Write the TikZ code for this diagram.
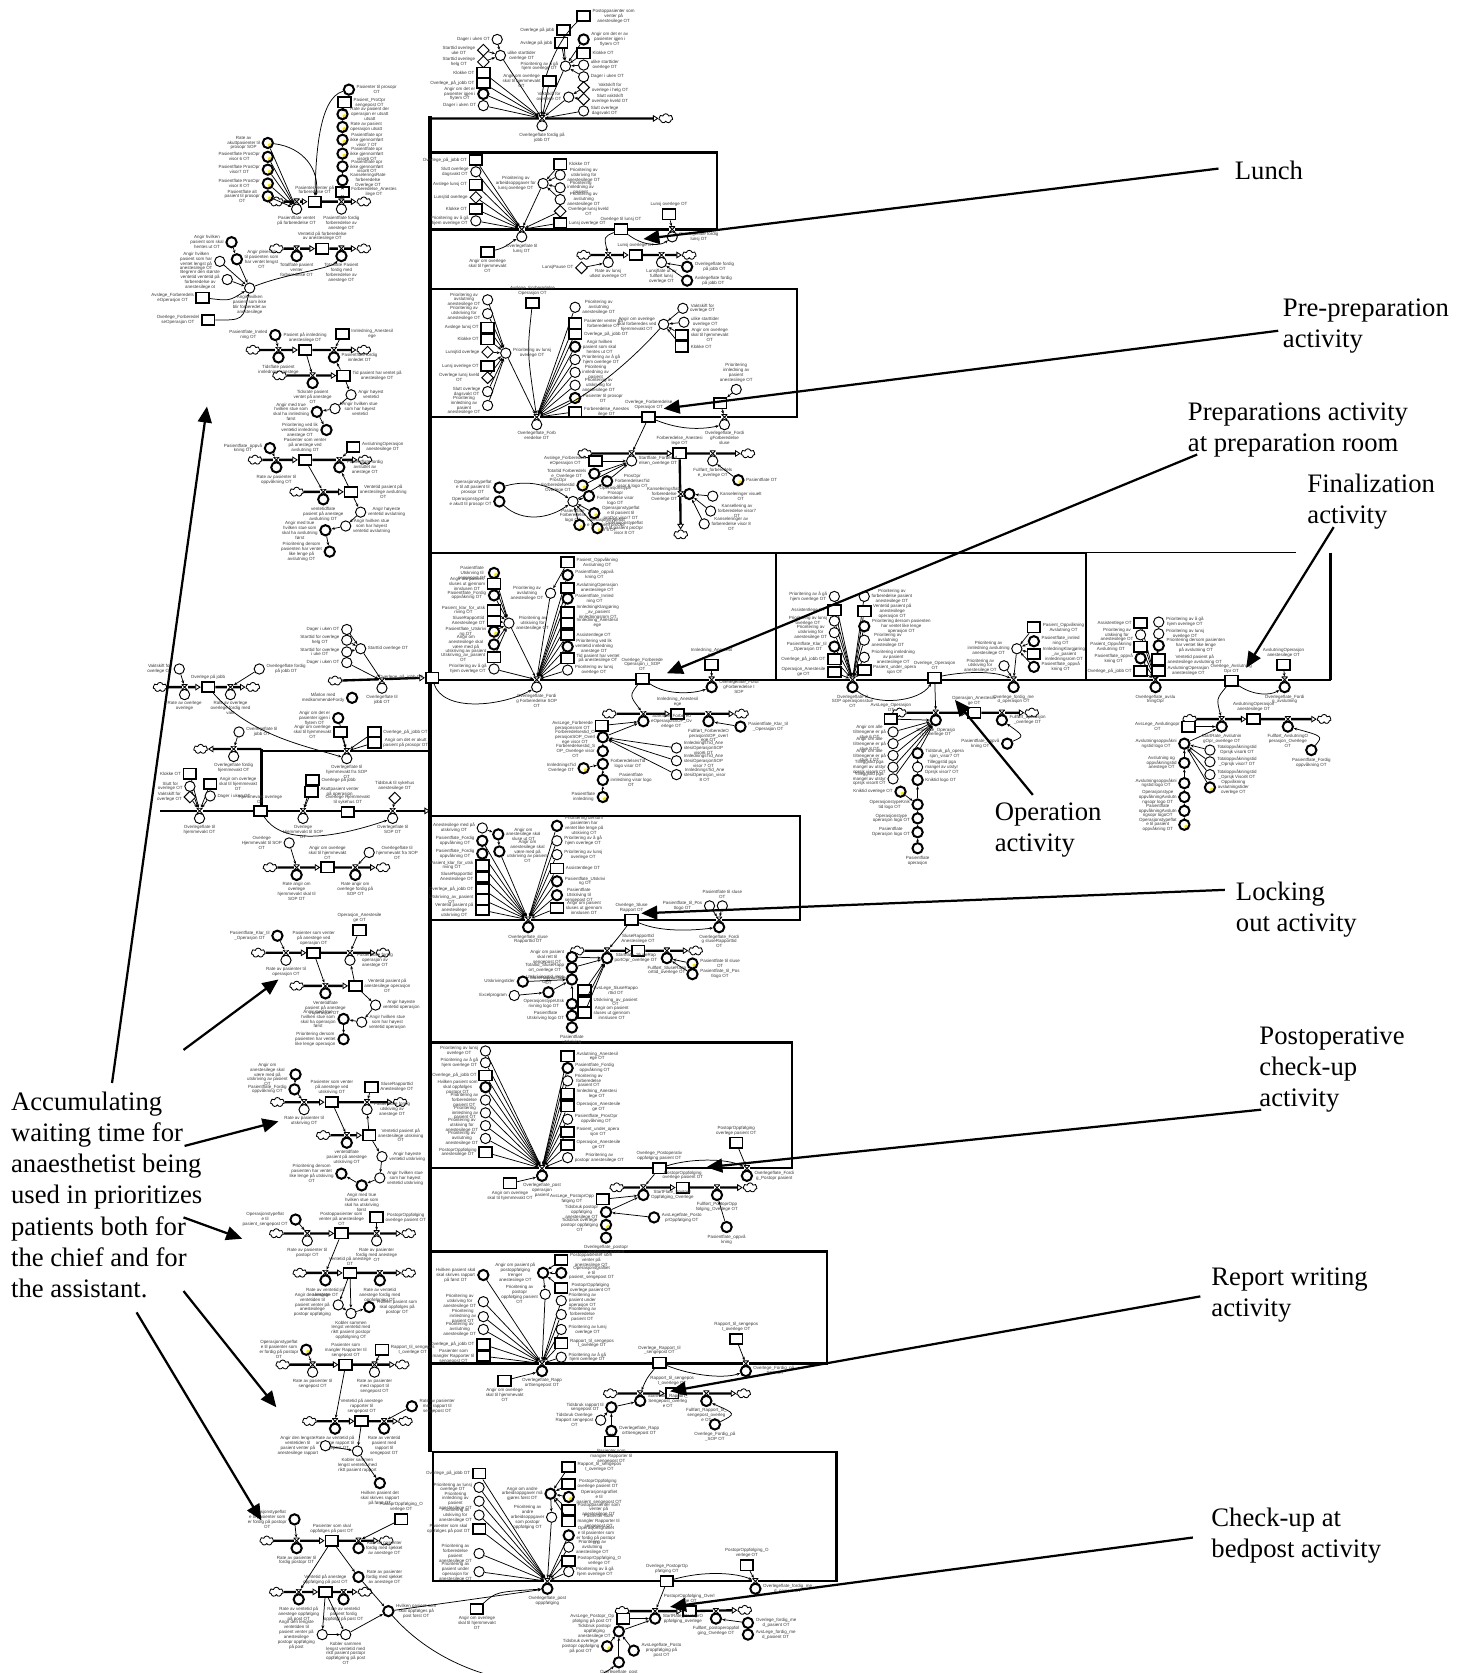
\documentclass[tikz,border=0pt]{standalone}
\usepackage{fontspec}
\usetikzlibrary{arrows.meta,shapes.geometric,shapes.symbols,positioning}
\newfontfamily\calloutfam{Liberation Serif}
\newfontfamily\modelfam{Liberation Sans}
\pgfdeclarelayer{bg}
\pgfsetlayers{bg,main}

\tikzset{
  lbl/.style={font=\modelfam\fontsize{2.1}{2.3}\selectfont,text=black!78,align=center,inner sep=0.2pt},
  big/.style={font=\calloutfam\fontsize{12.5}{14.6}\selectfont,align=left,inner sep=0pt},
  aux/.style={circle,draw,line width=0.45pt,minimum size=4.8pt,inner sep=0pt,fill=white},
  auxb/.style={aux,line width=0.95pt},
  auy/.style={auxb,path picture={\fill[yellow!90!orange] ([shift={(-45:1.5pt)}]path picture bounding box.center) circle (1pt);}},
  stk/.style={rectangle,draw,line width=0.8pt,minimum width=6pt,minimum height=4.8pt,inner sep=0pt,fill=white},
  cst/.style={diamond,draw,line width=0.45pt,minimum size=5.6pt,inner sep=0pt,fill=white},
  cld/.style={cloud,cloud puffs=7,aspect=1.5,draw,line width=0.4pt,minimum width=6.5pt,minimum height=4.4pt,inner sep=0pt,fill=white},
  vlv/.style={rectangle,minimum width=2.8pt,minimum height=2.6pt,inner sep=0pt,fill=white,
    path picture={\draw[line width=0.4pt] (path picture bounding box.north west) -- (path picture bounding box.north east) -- (path picture bounding box.south west) -- (path picture bounding box.south east) -- cycle;}},
  lnk/.style={line width=0.35pt,-{Stealth[length=1.6pt,width=1.3pt]}},
  pipe/.style={line width=1.1pt,-{Triangle[open,length=2.6pt,width=3.2pt,line width=0.4pt]}},
  frame/.style={line width=1.05pt},
  spine/.style={line width=2pt},
  callout/.style={line width=1.05pt,-{Triangle[length=7.5pt,width=6.5pt]}},
}

% element with a small caption beside it
\newcommand\nd[5]{\node[#1] (#2) at (#3) {};\node[lbl,#4=0.4pt of #2] (#2t) {#5};}
% flow valve with its rate circle
\newcommand\rate[6]{\node[vlv] (#1v) at (#2,#3) {};\node[#4] (#1) at (#2,#3+7) {};\node[lbl,#5=0.3pt of #1] (#1t) {#6};}
% a column of inputs all linked to one target
\newcommand\fan[4]{\foreach \fx/\fy/\fs/\ft [count=\fk] in {#4}{\node[\fs] (#1\fk) at (\fx,\fy) {};\node[lbl,#3=0.4pt of #1\fk] (#1t\fk) {\ft};\draw[lnk] (#1\fk) -- (#2);}}
\newcommand\flowpipe[2]{\begin{pgfonlayer}{bg}\draw[pipe] (#1) -- (#2);\end{pgfonlayer}}
\newcommand\lk[2]{\draw[lnk] (#1) -- (#2);}

\begin{document}
\begin{tikzpicture}[x=0.5pt,y=-0.5pt]
\useasboundingbox (0,0) rectangle (1371,1568);

% ---------- activity frames and the main spine ----------
\begin{pgfonlayer}{bg}
 \draw[spine] (403,109) -- (403,1361);
 \draw[frame] (403,143) -- (672,143) -- (672,215) -- (403,215);
 \draw[frame] (403,271) -- (747,271) -- (747,391) -- (403,391);
 \draw[frame] (403,518) -- (1018,518);
 \draw[line width=0.7pt] (1018,518) -- (1215,518);
 \draw[frame] (727,518) -- (727,637) (1018,518) -- (1018,637) (1247,518) -- (1247,637);
 \draw[frame] (403,637) -- (1247,637);
 \draw[frame] (403,765) -- (750,765) -- (750,862) -- (403,862);
 \draw[frame] (403,977) -- (742,977) -- (742,1095) -- (403,1095);
 \draw[frame] (403,1173) -- (775,1173) -- (775,1278) -- (403,1278);
 \draw[frame] (406,1361) rectangle (784,1482);
 \draw[frame] (245,702) -- (245,760);
 \draw[frame] (245,704) -- (403,704);
\end{pgfonlayer}

% ---------- start of day ----------
\node[cld] (Tcl) at (624,111) {};
\coordinate (Tsp) at (403,111);
\flowpipe{Tsp}{Tcl}
\rate{Th}{508}{111}{aux}{below}{Overlegeflate fordig på\\jobb OT}
\nd{aux}{Tdu}{466,37}{left}{Dager i uken OT}
\nd{aux}{Tul}{469,52}{right}{ulike starttider\\overlege OT}
\nd{cst}{Tdi}{453,47}{left}{Starttid overlege\\uke OT}
\nd{cst}{Tdh}{453,58}{left}{Starttid overlege\\helg OT}
\lk{Tdu}{Tul}\lk{Tdi}{Tul}\lk{Tdh}{Tul}\lk{Tul}{Thv}
\fan{Ta}{Thv}{left}{453/68/stk/Klokke OT, 453/78/stk/{Overlege\_på\_jobb OT}, 453/88/auxb/{Angir om det er\\pasienter igjen i\\flytem OT}, 453/99/aux/Dager i uken OT}
\nd{aux}{Tp}{530,62}{left}{Prioritering av å gå\\hjem overlege OT}
\lk{Tp}{Thv}
\fan{Tb}{Tp}{right}{547/37/auxb/{Angir om det er av\\pasienter igjen i\\flytem OT}, 547/50/stk/Klokke OT, 547/61/aux/{ulike starttider\\overlege OT}, 547/72/aux/Dager i uken OT}
\fan{Tc}{Tp}{left}{528/28/stk/Overlege på jobb, 526/40/stk/Avslege på jobb}
\nd{stk}{Tpo}{547,15}{right}{Postoppasienter som\\venter på\\anestesilege OT}
\draw[lnk] (Tpo) .. controls (520,40) and (505,80) .. (Thv);
\nd{aux}{Tvs}{533,91}{left}{Vaktskift for\\overlege OT}
\lk{Tvs}{Thv}
\fan{Td}{Tvs}{right}{547/82/cst/{Vaktskift for\\overlege i helg OT}, 547/93/cst/{Slutt vaktskift\\overlege kveld OT}}
\nd{aux}{Tso}{547,104}{right}{Slutt overlege\\dagsvakt OT}
\lk{Tso}{Thv}
\nd{stk}{Thj}{515,76}{left}{Angir om overlege\\skal til hjemmevakt\\OT}
\lk{Thj}{Thv}

% ---------- lunch ----------
\rate{Ah}{489}{215}{aux}{below}{Overlegeflate til\\lunsj OT}
\fan{Aa}{Ahv}{left}{446/150/stk/{Overlege\_på\_jobb OT}, 446/161/aux/{Slutt overlege\\dagsvakt OT}, 446/173/stk/Avslege lunsj OT, 446/185/cst/Lunsjtid overlege, 446/196/stk/Klokke OT, 446/207/aux/{Prioritering av å gå\\hjem overlege OT}}
\nd{aux}{Ap}{509,172}{left}{Prioritering av\\arbeidsoppgaver for\\lunsj overlege OT}
\lk{Ap}{Ahv}
\fan{Ab}{Ap}{right}{525/154/stk/Klokke OT, 525/164/aux/{Prioritering av\\utskriving for\\anestesilege OT}, 525/176/aux/{Prioritering\\innledning av\\pasient}, 525/187/aux/{Prioritering av\\avslutning\\anestesilege OT}}
\fan{Ac}{Ahv}{right}{525/198/cst/{Overlege lunsj kveld\\OT}, 525/209/stk/Lunsj overlege OT}
\nd{stk}{Atl}{582,215}{above}{Overlege til lunsj OT}
\nd{stk}{Alo}{627,201}{above}{Lunsj overlege OT}
\rate{Af}{630}{215}{aux}{right}{Overlegeflate fordig\\lunsj OT}
\lk{Alo}{Afv}
\draw[lnk] (Atl) .. controls (605,232) and (620,230) .. (Af);
\node[cld] (Acl1) at (547,239) {};
\node[cld] (Acl2) at (646,239) {};
\nd{stk}{Als}{596,239}{above}{Lunsj overlege OT}
\flowpipe{Acl1}{Als}\flowpipe{Als}{Acl2}
\rate{Ar}{570}{239}{aux}{below}{Rate av lunsj\\utløst overlege OT}
\rate{As}{620}{239}{aux}{below}{Lunsjflate ut av\\fullført lunsj\\overlege OT}
\draw[lnk] (Atl) .. controls (566,222) .. (Arv);
\nd{cst}{Alp}{545,251}{left}{LunsjPause OT}
\lk{Alp}{Ar}
\nd{auxb}{Aq}{644,250}{right}{Overlegeflate fordig\\på jobb OT}
\nd{auxb}{Aw}{644,263}{right}{Avslegeflate fordig\\på jobb OT}
\lk{Aq}{As}\lk{Aw}{As}
\nd{stk}{Ahj}{457,236}{below}{Angir om overlege\\skal til hjemmevakt\\OT}
\draw[lnk] (Ahj) .. controls (475,232) and (480,226) .. (Ah);

% ---------- pre-preparation ----------
\rate{Bh}{503}{391}{aux}{below}{Overlegeflate\_Forb\\eredelse OT}
\nd{aux}{Bp}{474,331}{right}{Prioritering av lunsj\\overlege OT}
\lk{Bp}{Bhv}
\fan{Ba}{Bp}{left}{457/281/aux/{Prioritering av\\avslutning\\anestesilege OT}, 457/294/aux/{Prioritering av\\utskriving for\\anestesilege OT}, 457/307/stk/Avslege lunsj OT, 457/318/stk/Klokke OT, 457/330/cst/Lunsjtid overlege, 457/343/stk/Lunsj overlege OT, 457/354/cst/{Overlege lunsj kveld\\OT}, 457/367/aux/{Slutt overlege\\dagsvakt OT}, 457/380/aux/{Prioritering\\innledning av\\pasient\\anestesilege OT}}
\nd{stk}{Bav}{499,284}{above}{Avslege\_Forberedelse\\Operasjon OT}
\draw[lnk] (Bav) .. controls (494,330) .. (Bhv);
\fan{Bb}{Bhv}{right}{539/288/aux/{Prioritering av\\avslutning\\anestesilege OT}, 539/303/stk/{Pasienter venter på\\forberedelse OT}, 539/313/stk/{Overlege\_på\_jobb OT}, 539/325/auxb/{Angir hvilken\\pasient som skal\\hentes ut OT}, 539/337/aux/{Prioritering av å gå\\hjem overlege OT}, 539/349/aux/{Prioritering\\innledning av\\pasient}, 539/361/aux/{Prioritering av\\utskriving for\\anestesilege OT}, 539/373/auy/{Pasienter til prosopr\\OT}, 539/386/stk/{Forberedelse\_Anestes\\ilege OT}}
\nd{aux}{Bq}{622,304}{left}{Angir om overlege\\skal forberedes ved\\hjemmevakt OT}
\fan{Bc}{Bq}{right}{640/289/aux/{Vaktskift for\\overlege OT}, 641/302/aux/{ulike starttider\\overlege OT}, 639/314/stk/{Angir om overlege\\skal til hjemmevakt\\OT}, 639/325/stk/Klokke OT}
\draw[lnk] (Bq) .. controls (590,340) and (545,378) .. (Bhv);
\nd{stk}{Bfo}{608,391}{above}{Overlege\_Forberedelse\\Operasjon OT}
\rate{Bf}{679}{391}{aux}{below}{Overlegeflate\_Fordi\\gForberedelse\\sluse}
\nd{aux}{Bpi}{690,365}{above}{Prioritering\\innledning av\\pasient\\anestesilege OT}
\node[stk] (Bsq) at (675,378) {};
\lk{Bpi}{Bsq}\lk{Bsq}{Bfv}
\draw[lnk] (Bfo) .. controls (640,404) and (660,402) .. (Bf);
\node[cld] (Bcl1) at (548,425) {};
\node[cld] (Bcl2) at (701,425) {};
\node[cld] (Bcl3) at (638,501) {};
\nd{stk}{Bfs}{637,425}{above}{Forberedelse\_Anestesi\\lege OT}
\flowpipe{Bcl1}{Bfs}\flowpipe{Bfs}{Bcl2}\flowpipe{Bfs}{Bcl3}
\rate{Br}{592}{425}{aux}{right}{Startflate\_Forbered\\elsen\_overlege OT}
\rate{Bs}{668}{425}{aux}{below}{Fullført\_forberedels\\e\_overlege OT}
\lk{Bfo}{Brv}
\nd{stk}{Bal}{558,432}{left}{Avslege\_Forberedels\\eOperasjon OT}
\lk{Bal}{Br}
\nd{auxb}{Bta}{557,444}{left}{Totaltid Forberedels\\e\_Overlege OT}
\nd{auy}{Btb}{546,455}{left}{ProsOpr\\Forberedelsestid\\Overlege OT}
\nd{auxb}{Btc}{569,451}{right}{ProsOpr\\ForberedelsesTid\\visor 6 logo OT}
\lk{Bta}{Br}\lk{Btb}{Br}\lk{Btc}{Br}
\nd{aux}{Bhub}{537,470}{below}{Pasientflate\\Forberedelse\\logo OT}
\lk{Bhub}{Btc}
\fan{Bd}{Bhub}{right}{552/465/auxb/{Operasjonstype\\Prosopr\\Forberedelse visor\\logo OT}, 557/481/auy/{Operasjonstypeflat\\e til pasient til\\proOpr visor7 OT}, 543/492/auy/{Operasjonstypeflat\\e til pasient proOpr\\visor 6 OT}, 560/495/auy/{Operasjonstypeflat\\e til pasient proOpr\\visor 8 OT}}
\nd{auxb}{Bea}{468,457}{left}{Operasjonstypeflat\\e til att pasient til\\prosopr OT}
\nd{auxb}{Beb}{468,470}{left}{Operasjonstypeflat\\e akutt til prosopr OT}
\draw[lnk] (Bea) .. controls (500,448) and (520,458) .. (Bhub);
\draw[lnk] (Beb) .. controls (490,490) and (515,486) .. (Bhub);
\node[vlv] (Bkv) at (638,463) {};
\nd{auxb}{Bk}{646,463}{left}{Kanseleringsflate\\forberedelse\\Overlege OT}
\fan{Bg}{Bk}{right}{668/465/aux/{Kanseleringer visuelt\\OT}, 666/479/aux/{Kansellering av\\forberedelse visor7\\OT}, 660/491/aux/{Kanseleringer av\\forberedelse visor 8\\OT}}
\nd{auy}{Bpf}{692,450}{right}{Pasientflate OT}
\lk{Bpf}{Bs}

% ---------- preparation room, operation, finalization ----------
\nd{stk}{Sp}{405,635}{left}{Overlege\_på\_jobb OT}
\rate{Ch}{503}{637}{aux}{below}{Overlegeflate\_Fordi\\g Forberedelse SOP\\OT}
\draw[lnk] (Sp) .. controls (415,668) and (470,662) .. (Ch);
\nd{aux}{Cp}{477,584}{right}{Prioritering av\\utskiving for\\anestesilege OT}
\lk{Cp}{Chv}
\fan{Ca}{Cp}{left}{463/537/auy/{Pasientflate\\Utskrving til\\sengepost OT}, 463/547/stk/{Angir om pasient\\sluses ut gjennom\\innslusen OT}, 463/558/auxb/{Pasientflate\_Fordig\\oppvåkning OT}, 463/572/stk/{Pasient\_klar\_for\_utsk\\riving OT}, 463/582/stk/{SluseRapporttid\\Anestesilege OT}, 463/592/auy/{Pasientflate\_Utskrivi\\ng OT}, 463/604/auxb/{Angir om\\anestesilege skal\\være med på\\utskriving av pasient}, 463/616/stk/{Utskriving\_av\_pasient\\OT}}
\nd{aux}{Cg}{463,627}{left}{Prioritering av å gå\\hjem overlege OT}
\lk{Cg}{Chv}
\nd{aux}{Cq}{516,556}{left}{Prioritering av\\avslutning\\anestesilege OT}
\lk{Cq}{Chv}
\nd{stk}{Cpo}{532,527}{right}{Pasient\_Oppvåkning\\Avslutning OT}
\lk{Cpo}{Cq}
\fan{Cb}{Chv}{right}{532/539/auxb/{Pasientflate\_oppvå\\kning OT}, 532/551/stk/{AvslutningOperasjon\\anestesilege OT}, 532/561/auxb/{Pasientflate\_Innled\\ning OT}, 532/574/stk/{InnledningKlargjøring\\\_av\_pasient\\innledningsrom OT}, 532/584/stk/{Innledning\_Anestesil\\ege}, 532/595/stk/Assistentlege OT, 532/606/auxb/{Prioritering ved lik\\ventetid innledning\\anestege OT}, 532/617/stk/{Tid pasient har ventet\\på anestesilege OT}, 532/628/aux/{Prioritering av lunsj\\overlege OT}}
\nd{stk}{Cfo}{602,636}{above}{Overlege\_Forberede\\Operasjon\_i\_SOP\\OT}
\nd{stk}{Cin}{667,623}{above}{Innledning\_Anestesil\\ege}
\rate{Cf}{667}{637}{auxb}{right}{Overlegeflate\_Fordi\\gForberedelse I\\SOP}
\lk{Cin}{Cfv}
\draw[lnk] (Cfo) .. controls (625,652) and (650,650) .. (Cf);
\node[cld] (Ccl1) at (571,669) {};
\node[cld] (Ccl2) at (695,669) {};
\nd{stk}{Cis}{635,669}{above}{Innledning\_Anestesil\\ege}
\flowpipe{Ccl1}{Cis}\flowpipe{Cis}{Ccl2}
\rate{Cr}{603}{669}{auxb}{right}{Startflate\_Forbered\\eOperasjonSOP\_Ov\\erlege OT}
\rate{Cs}{664}{669}{auxb}{below}{Fullført\_ForberedeO\\perasjonSOP\_overl\\ege OT}
\draw[lnk] (Cfo) .. controls (590,652) .. (Crv);
\nd{auxb}{Ckl}{694,681}{right}{Pasientflate\_Klar\_til\\\_Operasjon OT}
\lk{Ckl}{Cs}
\nd{stk}{Cal}{564,680}{left}{AvsLege\_Forberede\\perasjonsrom OT}
\lk{Cal}{Cr}
\nd{auxb}{Cda}{565,691}{left}{Forberedelsestid\_O\\perasjonSOP\_Overl\\ege visor OT}
\nd{auxb}{Cdb}{565,704}{left}{Forberedelsestid\_S\\OP\_Overlege visor\\OT}
\nd{auxb}{Cdc}{565,716}{right}{ForberedelsesTid\\logo visor OT}
\nd{auxb}{Cdd}{565,731}{right}{Pasientflate\\innledning visor logo\\OT}
\nd{auy}{Cde}{565,747}{left}{Pasientflate\\innledning}
\lk{Cda}{Cr}\lk{Cdb}{Cda}\lk{Cdc}{Cdb}\lk{Cdd}{Cdc}\lk{Cde}{Cdd}
\nd{auy}{Cit}{547,720}{left}{InnledningsTid\\Overlege OT}
\lk{Cit}{Cdc}
\fan{Ce}{Cda}{right}{634/701/aux/{InnledningsTid\_Ane\\stesiOperasjonSOP\\visor6 OT}, 634/713/aux/{InnledningsTid\_Ane\\stesiOperasjonSOP\\visor 7 OT}, 634/726/aux/{InnledningsTid\_Ane\\stesiOperasjon\_visor\\8 OT}}

\rate{Dh}{799}{637}{auxb}{below}{Overlegeflate til\\SOP operasjonsstue\\OT}
\fan{Da}{Dhv}{left}{782/559/aux/{Prioritering av å gå\\hjem overlege OT}, 782/572/stk/Assistentlege OT, 782/582/aux/{Prioritering av lunsj\\overlege OT}, 782/593/aux/{Prioritering av\\utskriving for\\anestesilege OT}, 782/606/auxb/{Pasientflate\_Klar\_til\\\_Operasjon OT}, 782/618/stk/{Overlege\_på\_jobb OT}, 782/630/stk/{Operasjon\_Anestesile\\ge OT}}
\fan{Db}{Dhv}{right}{810/559/aux/{Prioritering av\\forberedelse pasient\\anestesilege OT}, 810/573/stk/{Ventetid pasient på\\anestesilege\\operasjon OT}, 810/587/auxb/{Prioritering dersom pasienten\\har ventet like lenge\\operasjon OT}, 810/600/aux/{Prioritering av\\avslutning\\anestesilege OT}, 810/616/aux/{Prioritering innledning\\av pasient\\anestesilege OT}, 810/628/stk/{Pasient\_under\_opera\\sjon OT}}
\nd{stk}{Dop}{876,635}{above}{Overlege\_Operasjon\\OT}
\draw[lnk] (Dh) .. controls (820,662) and (862,658) .. (Dop);
\rate{Df}{950}{637}{auxb}{below}{Overlege\_fordig\_me\\d\_operasjon OT}
\draw[lnk] (Dop) .. controls (900,630) and (930,628) .. (Dfv);
\nd{aux}{Dq}{953,608}{left}{Prioritering av\\innledning avslutning\\anestesilege OT}
\nd{aux}{Du}{941,624}{left}{Prioritering av\\utskiving for\\anestesilege OT}
\lk{Dq}{Dfv}\lk{Du}{Dfv}
\fan{Dc}{Dq}{right}{969/588/stk/{Pasient\_Oppvåkning\\Avslutning OT}, 969/601/auxb/{Pasientflate\_innled\\ning OT}, 969/613/stk/{InnledningKlargjøring\\\_av\_pasient\\innledningsrom OT}, 969/625/auxb/{Pasientflate\_oppvå\\kning OT}}
\node[cld] (Dcl1) at (843,668) {};
\node[cld] (Dcl2) at (967,668) {};
\nd{stk}{Dos}{913,668}{above}{Operasjon\_Anestesile\\ge OT}
\flowpipe{Dcl1}{Dos}\flowpipe{Dos}{Dcl2}
\rate{Dr}{877}{668}{auxb}{below}{Startflate\_Operasjo\\n\_Overlege OT}
\rate{Ds}{939}{668}{auxb}{right}{Fullført\_operasjon\\\_overlege OT}
\lk{Dop}{Drv}
\nd{auxb}{Dpo}{944,697}{left}{Pasientflate\_oppvå\\kning OT}
\draw[lnk] (Dpo) .. controls (960,690) .. (Ds);
\nd{stk}{Dal}{835,674}{above}{AvsLege\_Operasjon\\OT}
\lk{Dal}{Dr}
\fan{Dd}{Dr}{left}{837/686/aux/{Angir om alle\\tiltrengene er på\\stue 6 OT}, 837/697/aux/{Angir om alle\\tiltrengene er på\\stue 8 OT}, 837/708/aux/{Angir om alle\\tiltrengene er på\\stue 7 OT}, 837/719/aux/{Tilleggstid pga\\mangel av utstyr\\oprsjk visor6 OT}, 837/730/aux/{Tilleggstid pga\\mangel av utstyr\\oprsjk visor8 OT}}
\nd{auxb}{Dea}{860,706}{right}{Tidsbruk\_på\_opera\\sjon\_visor7 OT}
\nd{aux}{Deb}{860,719}{right}{Tilleggstid pga\\mangel av utstyr\\Oprsjk visor7 OT}
\nd{auxb}{Dec}{860,731}{right}{Kniktid logo OT}
\nd{auxb}{Ded}{860,754}{left}{OperasjonstypeKnik\\tid logo OT}
\nd{auxb}{Dee}{860,767}{left}{Operasjonstype\\operasjon logo OT}
\nd{auxb}{Def}{860,780}{left}{Pasientflate\\Operasjon logo OT}
\nd{auxb}{Deg}{860,795}{below}{Pasientflate\\operasjon}
\lk{Dea}{Dr}\lk{Deb}{Dea}\lk{Dec}{Deb}\lk{Ded}{Dec}\lk{Dee}{Ded}\lk{Def}{Dee}\lk{Deg}{Def}
\nd{auy}{Dkn}{844,742}{left}{Kniktid overlege OT}
\lk{Dkn}{Ded}

\rate{Eh}{1083}{637}{auxb}{below}{Overlegeflate\_avslu\\tningOpr}
\fan{Ea}{Ehv}{left}{1069/584/stk/Assistentlege OT, 1069/595/aux/{Prioritering av\\utskiving for\\anestesilege OT}, 1069/606/stk/{Pasient\_Oppvåkning\\Avslutning OT}, 1069/617/auxb/{Pasientflate\_oppvå\\kning OT}, 1069/629/stk/{Overlege\_på\_jobb OT}}
\fan{Eb}{Ehv}{right}{1086/583/aux/{Prioritering av å gå\\hjem overlege OT}, 1086/594/aux/{Prioritering av lunsj\\overlege OT}, 1086/605/auxb/{Prioritering dersom pasienten\\har ventet like lenge\\på avslutning OT}, 1086/618/stk/{Ventetid pasient på\\anestesilege avslutning OT}, 1086/629/stk/{AvslutningOperasjon\\anestesilege OT}}
\nd{stk}{Eav}{1154,638}{above}{Overlege\_Avslutning\\Opr OT}
\nd{stk}{Eao}{1203,623}{above}{AvslutningOperasjon\\anestesilege OT}
\rate{Ef}{1204}{637}{auxb}{below}{Overlegeflate\_Fordi\\g\_avslutning}
\lk{Eao}{Efv}
\draw[lnk] (Eav) .. controls (1175,652) and (1190,652) .. (Ef);
\node[cld] (Ecl1) at (1115,674) {};
\node[cld] (Ecl2) at (1241,674) {};
\nd{stk}{Eas}{1175,674}{above}{AvslutningOperasjon\\anestesilege OT}
\flowpipe{Ecl1}{Eas}\flowpipe{Eas}{Ecl2}
\rate{Er}{1145}{674}{auxb}{below}{StartRate\_Avslutnin\\gOpr\_overlege OT}
\rate{Es}{1207}{674}{auxb}{below}{Fullført\_AvslutningO\\perasjon\_Overlege\\OT}
\draw[lnk] (Eav) .. controls (1140,655) .. (Erv);
\nd{stk}{Eal}{1114,681}{left}{AvsLege\_Avslutingopr\\OT}
\lk{Eal}{Er}
\nd{auxb}{Epf}{1229,703}{below}{Pasientflate\_Fordig\\oppvåkning OT}
\draw[lnk] (Epf) .. controls (1240,690) .. (Es);
\nd{auxb}{Eea}{1110,697}{left}{Avslutningsoppvåkni\\ngstid logo OT}
\nd{auxb}{Eeb}{1110,715}{left}{Avslutning og\\oppvåkningstid\\anestege OT}
\nd{auxb}{Eec}{1110,734}{left}{Avslutningsoppvåkni\\ngstid logo OT}
\nd{auxb}{Eed}{1110,747}{left}{Operasjonstype\\oppvåkningAvslutn\\ngsopr logo OT}
\nd{auxb}{Eee}{1110,760}{left}{Pasientflate\\oppvåkningAvslutn\\ngsopr logoOT}
\nd{auy}{Eef}{1110,773}{left}{Operasjonstypeflat\\e til pasient\\oppvåkning OT}
\lk{Eea}{Er}\lk{Eeb}{Eea}\lk{Eec}{Eeb}\lk{Eed}{Eec}\lk{Eee}{Eed}\lk{Eef}{Eee}
\fan{Eg}{Eea}{right}{1134/703/aux/{Totaloppvåkningstid\\Oprsjk visor6 OT}, 1134/714/aux/{Totaloppvåkningstid\\\_Oprsjk visor7 OT}, 1134/726/aux/{Totaloppvåkningstid\\\_Oprsjk Visor8 OT}, 1134/738/auy/{Oppvåkning\\avslutningstider\\overlege OT}}

% ---------- locking out ----------
\rate{Fh}{495}{862}{auxb}{below}{Overlegeflate\_sluse\\Rapporttid OT}
\fan{Fa}{Fhv}{left}{452/788/auxb/{Pasientflate\_Fordig\\oppvåkning OT}, 452/800/auxb/{Pasientflate\_Fordig\\oppvåkning OT}, 452/811/stk/{Pasient\_klar\_for\_utsk\\riving OT}, 452/822/stk/{SluseRapporttid\\Anestesilege OT}, 452/833/stk/{Overlege\_på\_jobb OT}, 452/843/stk/{Utskriving\_av\_pasient\\OT}, 452/853/stk/{Ventetid pasient på\\anestesilege\\utskriving OT}}
\nd{aux}{Fam}{452,776}{left}{Anestesilege med på\\utskriving OT}
\nd{auxb}{Fsa}{467,782}{right}{Angir om\\anestesilege skal\\sluse ut OT}
\nd{auxb}{Fsb}{468,798}{right}{Angir om\\anestesilege skal\\være med på\\utskriving av pasient\\OT}
\lk{Fam}{Fsa}\lk{Fsa}{Fsb}\lk{Fsb}{Fhv}
\fan{Fb}{Fhv}{right}{522/774/auxb/{Prioritering dersom\\pasienten har\\ventet like lenge på\\utskiving OT}, 522/788/aux/{Prioritering av å gå\\hjem overlege OT}, 522/801/aux/{Prioritering av lunsj\\overlege OT}, 522/814/stk/Assistentlege OT, 522/826/auxb/{Pasientflate\_Utskrivi\\ng OT}, 522/839/auxb/{Pasientflate\\Utskriving til\\sengepost OT}, 522/851/stk/{Angir om pasient\\sluses ut gjennom\\innslusen OT}}
\nd{stk}{Fsl}{592,862}{above}{Overlege\_Sluse\\Rapport OT}
\rate{Ff}{674}{862}{auxb}{below}{Overlegeflate\_Fordi\\g sluseRapporttid\\OT}
\nd{aux}{Fpa}{665,849}{left}{Pasientflate\_til\_Pos\\tlogo OT}
\nd{aux}{Fpb}{677,849}{above}{Pasientflate til sluse\\OT}
\lk{Fpa}{Ffv}\lk{Fpb}{Ffv}
\draw[lnk] (Fsl) .. controls (620,874) and (650,872) .. (Ff);
\node[cld] (Fcl1) at (541,891) {};
\node[cld] (Fcl2) at (652,891) {};
\nd{stk}{Fss}{598,891}{above}{SluseRapporttid\\Anestesilege OT}
\flowpipe{Fcl1}{Fss}\flowpipe{Fss}{Fcl2}
\rate{Fr}{569}{891}{auxb}{right}{Startflate\_SluseRap\\portOpr\_overlege OT}
\rate{Fs}{625}{891}{auxb}{below}{Fullført\_SluseRapp\\orttid\_overlege OT}
\draw[lnk] (Fsl) .. controls (580,878) .. (Frv);
\nd{auy}{Fqa}{649,903}{right}{Pasientflate til sluse\\OT}
\nd{auxb}{Fqb}{649,913}{right}{Pasientflate\_til\_Pos\\tlogo OT}
\lk{Fqa}{Fs}\lk{Fqb}{Fs}
\nd{auxb}{Fda}{536,897}{left}{Angir om pasient\\skal rett til\\sengepost OT}
\nd{auxb}{Fdb}{536,907}{left}{Totaltid\_SluseRapp\\ort\_overlege OT}
\nd{auxb}{Fdc}{536,918}{left}{Utskrivingstid\_logo\\OT}
\nd{auxb}{Fdd}{536,941}{left}{OperasjonstypeUtsk\\rivning logo OT}
\nd{auxb}{Fde}{536,952}{left}{Pasientflate\\Utskriving logo OT}
\nd{auxb}{Fdf}{536,963}{below}{Pasientflate\\utskriving}
\lk{Fda}{Fr}\lk{Fdb}{Fr}\lk{Fdc}{Fdb}\lk{Fdd}{Fdc}\lk{Fde}{Fdd}\lk{Fdf}{Fde}
\fan{Fe}{Fr}{right}{548/928/stk/{AvsLege\_SluseRappo\\rttid OT}, 548/939/stk/{Utskriving\_av\_pasient\\OT}, 548/949/stk/{Angir om pasient\\sluses ut gjennom\\innslusen OT}}
\nd{auxb}{Fua}{490,920}{left}{Utskrivingstider}
\nd{aux}{Fub}{482,933}{left}{Excelprogram}
\nd{auxb}{Fuc}{514,930}{above}{SluseRapportTider\\OT}
\lk{Fua}{Fdc}\lk{Fub}{Fuc}\lk{Fuc}{Fdc}

% ---------- postoperative check-up ----------
\rate{Gh}{508}{1095}{auxb}{below}{Overlegeflate\_post\\operasjon\\pasient}
\fan{Ga}{Ghv}{left}{455/985/aux/{Prioritering av lunsj\\overlege OT}, 455/996/aux/{Prioritering av å gå\\hjem overlege OT}, 455/1008/stk/{Overlege\_på\_jobb OT}, 455/1019/auxb/{Hvilken pasient som\\skal oppfølges\\postopr OT}, 455/1031/aux/{Prioritering av\\forberedelse\\pasient OT}, 455/1043/aux/{Prioritering\\innledning av\\pasient OT}, 455/1055/aux/{Prioritering av\\utskiving for\\anestesilege OT}, 455/1067/aux/{Prioritering av\\avslutning\\anestesilege OT}, 455/1080/stk/{PostoprOppfølging\\anestesilege OT}}
\fan{Gb}{Ghv}{right}{532/990/stk/{Avslutning\_Anestesil\\ege OT}, 532/1001/auxb/{Pasientflate\_Fordig\\oppvåkning OT}, 532/1013/aux/{Prioritering av\\forberedelse\\pasient OT}, 532/1025/stk/{Innledning\_Anestesi\\lege OT}, 532/1037/stk/{Operasjon\_Anestesile\\ge OT}, 532/1049/aux/{Pasientflate\_ProsOpr\\oppvåkning OT}, 532/1061/stk/{Pasient\_under\_opera\\sjon OT}, 532/1073/stk/{Operasjon\_Anestesile\\ge OT}, 532/1085/aux/{Prioritering av\\postopr anestesilege OT}}
\nd{stk}{Gpo}{618,1095}{above}{Overlege\_Postoperativ\\oppfølging pasient OT}
\nd{stk}{Gpf}{690,1071}{above}{PostoprOppfølging\\overlege pasient OT}
\rate{Gf}{700}{1095}{auxb}{right}{Overlegeflate\_Fordi\\g\_Postopr pasient}
\lk{Gpf}{Gfv}
\draw[lnk] (Gpo) .. controls (645,1086) and (680,1085) .. (Gfv);
\node[cld] (Gcl1) at (578,1113) {};
\node[cld] (Gcl2) at (703,1113) {};
\nd{stk}{Gps}{640,1113}{above}{PostoprOppfølging\\overlege pasient OT}
\flowpipe{Gcl1}{Gps}\flowpipe{Gps}{Gcl2}
\rate{Gr}{603}{1113}{auxb}{right}{StartFlate\_Postopr\\Oppfølging\_Overlege}
\rate{Gs}{672}{1113}{auxb}{below}{Fullført\_PostoprOpp\\følging\_Overlege OT}
\lk{Gpo}{Grv}
\nd{stk}{Gal}{565,1124}{left}{AvsLege\_PostoprOpp\\følging OT}
\lk{Gal}{Gr}
\nd{auxb}{Gda}{568,1136}{left}{Tidsbruk postopr\\oppfølging\\anestesilege OT}
\nd{auy}{Gdb}{568,1148}{left}{Tidsbruk overlege\\postopr oppfølging\\OT}
\nd{auxb}{Gdc}{568,1160}{below}{Overlegeflate\_postopr\\oppfølging pasient}
\lk{Gda}{Gr}\lk{Gdb}{Gda}\lk{Gdc}{Gdb}
\nd{auxb}{Gav}{613,1141}{right}{AvsLegeflate\_Posto\\prOppfølging OT}
\lk{Gav}{Gda}
\nd{auxb}{Gkl}{681,1150}{below}{Pasientflate\_oppvå\\kning}
\lk{Gkl}{Gs}
\nd{stk}{Ghj}{478,1109}{below}{Angir om overlege\\skal til hjemmevakt OT}
\draw[lnk] (Ghj) .. controls (492,1106) .. (Gh);

% ---------- report writing ----------
\rate{Hh}{508}{1278}{auxb}{below}{Overlegeflate\_Rapp\\ortSengepost OT}
\fan{Ha}{Hhv}{left}{453/1195/auxb/{Hvilken pasient skal\\skal skrives rapport\\på først OT}, 453/1220/aux/{Prioritering av\\utskriving for\\anestesilege OT}, 453/1234/aux/{Prioritering\\innledning av\\pasient OT}, 453/1246/aux/{Prioritering av\\avslutning\\anestesilege OT}, 453/1260/stk/{Overlege\_på\_jobb OT}, 453/1271/stk/{Pasienter som\\mangler Rapporter til\\sengepost OT}}
\nd{auxb}{Hp}{509,1193}{left}{Angir om pasient på\\postoppfølging\\trenger\\anestesilege OT}
\nd{aux}{Hq}{511,1213}{left}{Prioritering av\\postopr\\oppfølging pasient\\OT}
\lk{Hp}{Hq}\lk{Hq}{Hhv}
\fan{Hb}{Hp}{right}{526/1181/stk/{Postoppasienter som\\venter på\\anestesilege OT}, 526/1193/auxb/{Operasjonsgrafliet\\e til\\pasient\_sengepost OT}, 526/1207/stk/{PostoprOppfølging\\overlege pasient OT}}
\fan{Hc}{Hhv}{right}{526/1219/aux/{Prioritering av\\pasient under\\operasjon OT}, 526/1232/aux/{Prioritering av\\forberedelse\\pasient OT}, 526/1246/aux/{Prioritering av lunsj\\overlege OT}, 526/1259/stk/{Rapport\_til\_sengepos\\t\_overlege OT}, 526/1272/aux/{Prioritering av å gå\\hjem overlege OT}}
\nd{stk}{Hro}{618,1277}{above}{Overlege\_Rapport\_til\\\_sengepost OT}
\nd{stk}{Hrs}{690,1255}{above}{Rapport\_til\_sengepos\\t\_overlege OT}
\rate{Hf}{699}{1278}{auxb}{right}{Overlege\_Fordig\_på\\\_SOP OT}
\lk{Hrs}{Hfv}
\draw[lnk] (Hro) .. controls (650,1290) and (680,1292) .. (Hf);
\nd{stk}{Hhj}{473,1294}{below}{Angir om overlege\\skal til hjemmevakt\\OT}
\draw[lnk] (Hhj) .. controls (488,1290) .. (Hh);
\node[cld] (Hcl1) at (572,1306) {};
\node[cld] (Hcl2) at (697,1306) {};
\nd{stk}{Hrt}{630,1306}{above}{Rapport\_til\_sengepos\\t\_overlege OT}
\flowpipe{Hcl1}{Hrt}\flowpipe{Hrt}{Hcl2}
\rate{Hr}{600}{1306}{auxb}{right}{StartRate\_Rapport\_\\Sengepost\_overleg\\e OT}
\rate{Hs}{662}{1306}{auxb}{below}{Fullført\_Rapport\_til\_\\sengepost\_overleg\\e OT}
\draw[lnk] (Hro) .. controls (606,1292) .. (Hrv);
\nd{auxb}{Hfs}{670,1335}{below}{Overlege\_Fordig\_på\\\_SOP OT}
\draw[lnk] (Hfs) .. controls (690,1325) .. (Hs);
\nd{auxb}{Hda}{573,1319}{left}{Tidsbruk rapport til\\sengepost OT}
\nd{aux}{Hdb}{563,1331}{left}{Tidsbruk Overlege\\Rapport sengepost\\OT}
\nd{auxb}{Hdc}{573,1341}{right}{Overlegeflate\_Rapp\\ortSengepost OT}
\nd{stk}{Hdd}{573,1351}{below}{Pasienter som\\mangler Rapporter til\\sengepost OT}
\lk{Hda}{Hr}\lk{Hdb}{Hda}\lk{Hdc}{Hda}\lk{Hdd}{Hdc}

% ---------- check-up at bedpost ----------
\rate{Ih}{513}{1482}{auxb}{below}{Overlegeflate\_post\\opppfølging}
\fan{Ia}{Ihv}{left}{449/1381/stk/{Overlege\_på\_jobb OT}, 449/1394/aux/{Prioritering av lunsj\\overlege OT}, 449/1407/aux/{Prioritering\\innledning av\\pasient\\anestesilege OT}, 449/1420/aux/{Prioritering av\\utskiving for\\anestesilege OT}, 449/1433/stk/{Pasienter som skal\\oppfølges på post OT}, 449/1456/aux/{Prioritering av\\forberedelse\\pasient\\anestesilege OT}, 449/1473/aux/{Prioritering av\\pasient under\\operasjon for\\anestesilege OT}}
\nd{auxb}{Ip}{516,1400}{left}{Angir om andre\\arbeidsoppgaver må\\gjøres først OT}
\nd{aux}{Iq}{517,1422}{left}{Prioritering av\\andre\\arbeidsoppgaver\\som postopr\\oppfølging OT}
\lk{Ip}{Iq}\lk{Iq}{Ihv}
\nd{stk}{Irs}{533,1375}{right}{Rapport\_til\_sengepos\\t\_overlege OT}
\lk{Irs}{Ip}
\fan{Ib}{Ip}{right}{533/1391/stk/{PostoprOppfølging\\overlege pasient OT}, 533/1403/auy/{Operasjonsgrafliet\\e til\\pasient\_sengepost OT}, 533/1415/stk/{Postoppasienter som\\venter på\\anestesilege OT}, 533/1426/stk/{Pasienter Som\\mangler Rapporter til\\sengepost OT}}
\fan{Ic}{Ihv}{right}{533/1439/auxb/{Operasjonsgrafliet\\e til pasienter som\\er fordig på postopr\\OT}, 533/1450/aux/{Prioritering av\\avslutning\\anestesilege OT}, 533/1463/stk/{PostoprOppfølging\_O\\verlege OT}, 533/1473/aux/{Prioritering av å gå\\hjem overlege OT}}
\nd{stk}{Ipo}{625,1482}{above}{Overlege\_PostoprOp\\pfølging OT}
\nd{stk}{Ipf}{700,1467}{above}{PostoprOppfølging\_O\\verlege OT}
\rate{If}{708}{1482}{auxb}{right}{Overlegeflate\_fordig\_me\\d\_pasient OT}
\lk{Ipf}{Ifv}
\draw[lnk] (Ipo) .. controls (660,1472) and (690,1474) .. (Ifv);
\nd{stk}{Ihj}{447,1508}{below}{Angir om overlege\\skal til hjemmevakt\\OT}
\draw[lnk] (Ihj) .. controls (465,1492) .. (Ih);
\node[cld] (Icl1) at (583,1510) {};
\node[cld] (Icl2) at (698,1509) {};
\nd{stk}{Ips}{646,1510}{above}{PostoprOppfølging\_Overl\\ege OT}
\flowpipe{Icl1}{Ips}\flowpipe{Ips}{Icl2}
\rate{Ir}{614}{1510}{auxb}{right}{StartRate\_PostoprO\\ppfølging\_overlege}
\rate{Is}{671}{1510}{auxb}{below}{Fullført\_postoperoppføl\\ging\_Overlege OT}
\draw[lnk] (Ipo) .. controls (620,1496) .. (Irv);
\nd{auxb}{Iqa}{701,1521}{right}{Overlege\_fordig\_me\\d\_pasient OT}
\nd{auxb}{Iqb}{701,1532}{right}{AvsLege\_fordig\_me\\d\_pasient OT}
\lk{Iqa}{Is}
\nd{stk}{Ial}{584,1517}{left}{AvsLege\_Postopr\_Op\\pfølging på post OT}
\lk{Ial}{Ir}
\nd{auxb}{Ida}{580,1529}{left}{Tidsbruk postopr\\oppfølging\\anestesilege OT}
\nd{auy}{Idb}{569,1543}{left}{Tidsbruk overlege\\postopr oppfølging\\på post OT}
\nd{auxb}{Idc}{594,1547}{right}{AvsLegeflate\_Posto\\proppfølging på\\post OT}
\nd{auxb}{Idd}{580,1558}{below}{Overlegeflate\_post\\oppfølging}
\lk{Ida}{Ir}\lk{Idb}{Ida}\lk{Idc}{Ida}\lk{Idd}{Ida}

% ---------- queues of waiting patients (left side) ----------
% preparation queue
\node[cld] (Qacl1) at (259,189) {};
\node[cld] (Qacl2) at (341,189) {};
\nd{stk}{Qas}{295,189}{above}{Pasienter venter på\\forberedelse OT}
\flowpipe{Qacl1}{Qas}\flowpipe{Qas}{Qacl2}
\rate{Qar}{278}{189}{aux}{below}{Pasientflate ventet\\på forberedelse OT}
\rate{Qbr}{320}{189}{aux}{below}{Pasientflate fordig\\forberedelse av\\anestege OT}
\fan{Qb}{Qar}{left}{251/134/auy/{Rate av\\akuttpasienter til\\prosopr SOP}, 251/147/auy/{Pasientflate ProsOpr\\visor 6 OT}, 251/159/auy/{Pasientflate ProsOpr\\visor7 OT}, 251/172/auy/{Pasientflate ProsOpr\\visor 8 OT}, 251/184/auy/{Pasientflate alt\\pasient til prosopr\\OT}}
\nd{auxb}{Qca}{327,84}{right}{Pasienter til prosopr\\OT}
\nd{stk}{Qcb}{323,96}{right}{Pasient\_ProOpr\\sengepost OT}
\nd{auy}{Qcc}{321,107}{right}{Rate av pasient der\\operasjon er utsatt\\utsatt}
\nd{auy}{Qcd}{321,119}{right}{Rate av pasient\\operasjon utsatt}
\nd{auy}{Qce}{321,131}{right}{Pasientflate opr\\ikke gjennomført\\visor 7 OT}
\nd{auy}{Qcf}{321,144}{right}{Pasientflate opr\\ikke gjennomført\\visor6 OT}
\nd{auxb}{Qcg}{321,156}{right}{Pasientflate opr\\ikke gjennomført\\visor8 OT}
\nd{auxb}{Qch}{321,169}{right}{KanseleringsRate\\forberedelse\\Overlege OT}
\nd{stk}{Qci}{321,180}{right}{Forberedelse\_Anestes\\ilege OT}
\lk{Qcb}{Qcc}\lk{Qcc}{Qcd}\lk{Qcd}{Qce}\lk{Qce}{Qcf}\lk{Qcf}{Qcg}\lk{Qcg}{Qch}\lk{Qch}{Qci}\lk{Qci}{Qbrv}
\draw[lnk] (Qca) .. controls (298,92) and (296,150) .. (Qas);
\draw[lnk] (Qb1) .. controls (285,138) and (300,160) .. (Qas);
\node[cld] (Qdcl1) at (259,233) {};
\node[cld] (Qdcl2) at (341,233) {};
\nd{stk}{Qds}{302,233}{above}{Ventetid på forberedelse\\av anestesilege OT}
\flowpipe{Qdcl1}{Qds}\flowpipe{Qds}{Qdcl2}
\rate{Qdr}{278}{233}{auxb}{below}{Totalflate pasient\\venter\\forberedelse OT}
\rate{Qer}{320}{233}{auxb}{below}{Totalflate Pasient\\fordig med\\forberedelse av\\anestege OT}
\nd{aux}{Qe}{234,270}{below}{Angir hvilken\\pasient som ikke\\blir forberedet av\\anestesilege}
\nd{auxb}{Qea}{217,227}{left}{Angir hvilken\\pasient som skal\\hentes ut OT}
\nd{auxb}{Qeb}{222,243}{right}{Angir pleiestid\\til pasienten som\\har ventet lengst\\OT}
\nd{aux}{Qec}{206,245}{left}{Angir hvilken\\pasient som har\\ventet lengst på\\anestesilege OT}
\nd{aux}{Qed}{213,262}{left}{Begrenr den største\\ventetid ventetid på\\forberedelse av\\anestesilege ot}
\nd{stk}{Qee}{190,279}{left}{Avslege\_Forberedels\\eOperasjon OT}
\nd{stk}{Qef}{195,300}{left}{Overlege\_Forberedel\\seOperasjon OT}
\lk{Qea}{Qeb}\lk{Qec}{Qe}\lk{Qed}{Qe}\lk{Qeb}{Qe}
\draw[lnk] (Qee) .. controls (215,282) .. (Qe);
\draw[lnk] (Qef) .. controls (228,300) .. (Qe);
\draw[lnk] (Qe) .. controls (270,256) and (310,252) .. (Qer);

% induction queue
\node[cld] (Qfcl1) at (237,328) {};
\node[cld] (Qfcl2) at (341,328) {};
\nd{stk}{Qfs}{286,328}{above}{Pasient på innledning\\anestesilege OT}
\flowpipe{Qfcl1}{Qfs}\flowpipe{Qfs}{Qfcl2}
\rate{Qfr}{261}{328}{auxb}{below}{Tidsflate pasient\\innledning anestege}
\rate{Qgr}{313}{328}{auxb}{right}{Pasientflate fordig\\innledet OT}
\nd{auxb}{Qfa}{258,314}{left}{Pasientflate\_Innled\\ning OT}
\nd{stk}{Qfb}{321,313}{right}{Innledning\_Anestesil\\ege}
\lk{Qfa}{Qfrv}\lk{Qfb}{Qgrv}
\node[cld] (Qhcl) at (262,352) {};
\nd{stk}{Qhs}{322,352}{right}{Tid pasient har ventet på\\anestesilege OT}
\flowpipe{Qhcl}{Qhs}
\rate{Qhr}{293}{352}{auxb}{below}{Tidsrate pasient\\ventet på anestege\\OT}
\lk{Qfs}{Qhrv}\lk{Qhs}{Qgr}
\nd{aux}{Qha}{329,370}{right}{Angir høyest\\ventetid}
\nd{aux}{Qhb}{314,383}{right}{Angir hvilken stue\\som har høyest\\ventetid}
\nd{auxb}{Qhc}{297,386}{left}{Angir med true\\hvilken stue som\\skal ha innledning\\først}
\nd{auxb}{Qhd}{306,403}{left}{Prioritering ved lik\\ventetid innledning\\anestege OT}
\lk{Qhs}{Qha}\lk{Qha}{Qhb}\lk{Qhb}{Qhc}\lk{Qhc}{Qhd}

% finalization queue
\node[cld] (Qicl1) at (239,431) {};
\node[cld] (Qicl2) at (342,431) {};
\nd{stk}{Qis}{286,431}{above}{Pasienter som venter\\på anestege ved\\avslutning OT}
\flowpipe{Qicl1}{Qis}\flowpipe{Qis}{Qicl2}
\rate{Qir}{259}{431}{auxb}{below}{Rate av pasienter til\\oppvåkning OT}
\rate{Qjr}{318}{431}{auxb}{right}{Pasientflate fordig\\avsluttet av\\anestege OT}
\nd{auxb}{Qia}{253,420}{left}{Pasientflate\_oppvå\\kning OT}
\nd{stk}{Qib}{331,419}{right}{AvslutningOperasjon\\anestesilege OT}
\lk{Qia}{Qirv}\lk{Qib}{Qjrv}
\node[cld] (Qkcl) at (278,461) {};
\nd{stk}{Qks}{329,461}{right}{Ventetid pasient på\\anestesilege avslutning\\OT}
\flowpipe{Qkcl}{Qks}
\rate{Qkr}{303}{461}{auxb}{below}{ventetidflate\\pasient på anestege\\avslutning OT}
\lk{Qis}{Qkrv}\lk{Qks}{Qjr}
\nd{aux}{Qka}{338,480}{right}{Angir høyeste\\ventetid avslutning}
\nd{aux}{Qkb}{324,493}{right}{Angir hvilken stue\\som har høyest\\ventetid avslutning}
\nd{auxb}{Qkc}{305,497}{left}{Angir med true\\hvilken stue som\\skal ha avslutning\\først}
\nd{auxb}{Qkd}{309,517}{left}{Prioritering dersom\\pasienten har ventet\\like lenge på\\avslutning OT}
\lk{Qks}{Qka}\lk{Qka}{Qkb}\lk{Qkb}{Qkc}\lk{Qkc}{Qkd}

% ---------- consultant on duty, home duty ----------
\node[cld] (Mcl1) at (314,638) {};
\flowpipe{Mcl1}{Sp}
\rate{Mr}{358}{638}{aux}{below}{Overlegeflate til\\jobb OT}
\nd{aux}{Ms}{338,608}{right}{Starttid overlege OT}
\lk{Ms}{Mrv}
\fan{Ma}{Ms}{left}{325/590/aux/Dager i uken OT, 325/600/aux/{Starttid for overlege\\helg OT}, 325/611/aux/{Starttid for overlege\\i uke OT}}
\nd{aux}{Mdu}{325,621}{left}{Dager i uken OT}
\lk{Mdu}{Mrv}
\nd{auxb}{Mm}{330,654}{left}{Månlon med\\medkommendeFordy}
\node[cld] (Mcl2) at (150,644) {};
\node[cld] (Mcl3) at (237,644) {};
\nd{stk}{Mos}{195,644}{above}{Overlege på jobb}
\flowpipe{Mcl2}{Mos}\flowpipe{Mos}{Mcl3}
\rate{Mra}{173}{644}{aux}{below}{Rate av overlege\\overlege}
\rate{Mrb}{216}{644}{aux}{below}{Rate av overlege\\overlege fordig med\\vakt}
\nd{aux}{Mqa}{168,627}{left}{Vaktskift for\\overlege OT}
\nd{aux}{Mqb}{243,627}{right}{Overlegeflate fordig\\på jobb OT}
\lk{Mqa}{Mrav}\lk{Mqb}{Mrbv}
\node[cld] (Mcl4) at (188,702) {};
\coordinate (Mj) at (245,702);
\flowpipe{Mj}{Mcl4}
\rate{Mrc}{219}{702}{aux}{below}{Overlegeflate fordig\\hjemmevakt OT}
\nd{aux}{Mqc}{224,686}{right}{Overlegeflate til\\jobb OT}
\lk{Mqc}{Mrcv}
\rate{Mh}{325}{704}{aux}{below}{Overlegeflate til\\hjemmevakt fra SOP\\OT}
\fan{Mb}{Mhv}{left}{317/673/auxb/{Angir om det er\\pasienter igjen i\\flytem OT}, 319/686/stk/{Angir om overlege\\skal til hjemmevakt\\OT}}
\fan{Mc}{Mhv}{right}{351/686/stk/{Overlege\_på\_jobb OT}, 351/696/stk/{Angir om det er akutt\\pasient på prosopr OT}}
\draw[lnk] (Mos) .. controls (235,690) and (290,700) .. (Mh);
\coordinate (Mls) at (150,760);
\coordinate (Mle) at (403,760);
\flowpipe{Mls}{Mle}
\nd{stk}{Mhs}{244,760}{above}{Hjemmevakt overlege\\OT}
\nd{stk}{Mhy}{326,761}{above}{Overlege Hjemmevakt\\til sykehus OT}
\rate{Mrd}{187}{760}{aux}{below}{Overlegeflate til\\hjemmevakt OT}
\rate{Mre}{284}{760}{aux}{below}{Overlege\\Hjemmevakt til SOP\\OT}
\rate{Mrf}{368}{760}{aux}{below}{Overlegeflate til\\SOP OT}
\fan{Md}{Mrdv}{left}{178/725/stk/Klokke OT, 178/737/aux/{Slutt for\\overlege OT}, 178/747/cst/{Vaktskift for\\overlege OT}}
\fan{Me}{Mrdv}{right}{197/735/stk/{Angir om overlege\\skal til hjemmevakt\\OT}, 197/746/aux/Dager i uken OT}
\fan{Mf}{Mrev}{right}{293/731/stk/Overlege på jobb, 292/742/stk/{Akuttpasient venter\\på operasjon}}
\nd{cst}{Mt}{370,748}{above}{Tidsbruk til sykehus\\anestesilege OT}
\lk{Mt}{Mrfv}
\draw[lnk] (Mhs) .. controls (262,788) and (300,790) .. (Mrf);
\node[cld] (Mcl5) at (253,813) {};
\node[cld] (Mcl6) at (359,813) {};
\nd{stk}{Mas}{307,813}{above}{Angir om overlege\\skal til hjemmevakt\\OT}
\flowpipe{Mcl5}{Mas}\flowpipe{Mas}{Mcl6}
\rate{Mrg}{278}{813}{auxb}{below}{Rate angir om\\overlege\\hjemmevakt skal til\\SOP OT}
\rate{Mrh}{333}{813}{auxb}{below}{Rate angir om\\overlege fordig på\\SOP OT}
\nd{aux}{Mga}{271,790}{left}{Overlege\\Hjemmevakt til SOP\\OT}
\nd{aux}{Mgb}{346,799}{right}{Overlegeflate til\\hjemmevakt fra SOP\\OT}
\lk{Mga}{Mrgv}\lk{Mgb}{Mrhv}

% operation queue
\node[cld] (Qlcl1) at (242,893) {};
\node[cld] (Qlcl2) at (359,893) {};
\nd{stk}{Qls}{294,893}{above}{Pasienter som venter\\på anestege ved\\operasjon OT}
\flowpipe{Qlcl1}{Qls}\flowpipe{Qls}{Qlcl2}
\rate{Qlr}{268}{893}{aux}{below}{Rate av pasienter til\\operasjon OT}
\rate{Qmr}{328}{893}{aux}{right}{Pasientflate fordig\\operasjon av\\anestege OT}
\nd{auxb}{Qla}{260,877}{left}{Pasientflate\_Klar\_til\\\_Operasjon OT}
\nd{stk}{Qlb}{337,872}{above}{Operasjon\_Anestesile\\ge OT}
\lk{Qla}{Qlrv}\lk{Qlb}{Qmrv}
\node[cld] (Qncl) at (278,924) {};
\nd{stk}{Qns}{333,924}{right}{Ventetid pasient på\\anestesilege operasjon\\OT}
\flowpipe{Qncl}{Qns}
\rate{Qnr}{305}{924}{auxb}{below}{Ventetidflate\\pasient på anestege\\operasjon OT}
\lk{Qls}{Qnrv}\lk{Qns}{Qmr}
\nd{aux}{Qna}{352,942}{right}{Angir høyeste\\ventetid operasjon}
\nd{aux}{Qnb}{339,958}{right}{Angir hvilken stue\\som har høyest\\ventetid operasjon}
\nd{auxb}{Qnc}{322,955}{left}{Angir med true\\hvilken stue som\\skal ha operasjon\\først}
\nd{auxb}{Qnd}{322,974}{left}{Prioritering dersom\\pasienten har ventet\\like lenge operasjon}
\lk{Qns}{Qna}\lk{Qna}{Qnb}\lk{Qnb}{Qnc}\lk{Qnc}{Qnd}

% discharge queue
\node[cld] (Qocl1) at (260,1033) {};
\node[cld] (Qocl2) at (375,1033) {};
\nd{stk}{Qos}{311,1033}{above}{Pasienter som venter\\på anestege ved\\utskriving OT}
\flowpipe{Qocl1}{Qos}\flowpipe{Qos}{Qocl2}
\rate{Qor}{285}{1033}{aux}{below}{Rate av pasienter til\\utskriving OT}
\rate{Qpr}{344}{1033}{aux}{right}{Pasientflate fordig\\utskiving av\\anestege OT}
\nd{auxb}{Qoa}{277,1007}{left}{Angir om\\anestesilege skal\\være med på\\utskriving av pasient\\OT}
\nd{auxb}{Qob}{276,1021}{left}{Pasientflate\_Fordig\\oppvåkning OT}
\nd{stk}{Qoc}{348,1019}{right}{SluseRapporttid\\Anestesilege OT}
\lk{Qoa}{Qob}\lk{Qob}{Qorv}\lk{Qoc}{Qprv}
\node[cld] (Qqcl) at (303,1064) {};
\nd{stk}{Qqs}{346,1064}{right}{Ventetid pasient på\\anestesilege utskriving\\OT}
\flowpipe{Qqcl}{Qqs}
\rate{Qqr}{325}{1064}{auxb}{below}{ventetidflate\\pasient på anestege\\utskriving OT}
\lk{Qos}{Qqrv}\lk{Qqs}{Qpr}
\nd{aux}{Qqa}{358,1084}{right}{Angir høyeste\\ventetid utskriving}
\nd{aux}{Qqb}{356,1104}{right}{Angir hvilken stue\\som har høyest\\ventetid utskriving}
\nd{auxb}{Qqc}{339,1111}{below}{Angir med true\\hvilken stue som\\skal ha utskriving\\først}
\nd{auxb}{Qqd}{320,1100}{left}{Prioritering dersom\\pasienten har ventet\\like lenge på utskiving\\OT}
\lk{Qqs}{Qqa}\lk{Qqa}{Qqb}\lk{Qqb}{Qqc}\lk{Qqc}{Qqd}

% postoperative queue
\node[cld] (Qrcl1) at (259,1156) {};
\node[cld] (Qrcl2) at (383,1156) {};
\nd{stk}{Qrs}{320,1156}{above}{Postoppasienter som\\venter på anestesilege\\OT}
\flowpipe{Qrcl1}{Qrs}\flowpipe{Qrs}{Qrcl2}
\rate{Qrr}{288}{1156}{aux}{below}{Rate av pasienter til\\postopr OT}
\rate{Qsr}{353}{1156}{aux}{below}{Rate av pasienter\\fordig med anestege\\OT}
\nd{auxb}{Qra}{277,1143}{left}{Operasjonstypeflat\\e til\\pasient\_sengepost OT}
\nd{stk}{Qrb}{353,1141}{right}{PostoprOppfølging\\overlege pasient OT}
\lk{Qra}{Qrrv}\lk{Qrb}{Qsrv}
\node[cld] (Qtcl1) at (281,1193) {};
\node[cld] (Qtcl2) at (383,1193) {};
\nd{stk}{Qts}{328,1193}{above}{Ventetid på anestege\\OT}
\flowpipe{Qtcl1}{Qts}\flowpipe{Qts}{Qtcl2}
\rate{Qtr}{305}{1193}{auxb}{below}{Rate av ventetid på\\anestege OT}
\rate{Qur}{356}{1193}{auxb}{below}{Rate av ventetid\\anestege fordig med\\oppfølgning OT}
\lk{Qrs}{Qtrv}
\nd{aux}{Qta}{317,1223}{left}{Angir den lengste\\ventetiden til\\pasient venter på\\anestesilege\\postopr oppfølging}
\nd{aux}{Qtb}{329,1231}{below}{Kobler sammen\\lengst ventetid med\\riktt pasient postopr\\oppfølgning OT}
\nd{auxb}{Qtc}{346,1225}{right}{Hvilken pasient som\\skal oppfølges på\\postopr OT}
\lk{Qts}{Qta}\lk{Qts}{Qtb}\lk{Qta}{Qtb}\lk{Qtb}{Qtc}

% report queue
\node[cld] (Qvcl1) at (265,1279) {};
\node[cld] (Qvcl2) at (377,1279) {};
\nd{stk}{Qvs}{324,1279}{above}{Pasienter som\\mangler Rapporter til\\sengepost OT}
\flowpipe{Qvcl1}{Qvs}\flowpipe{Qvs}{Qvcl2}
\rate{Qvr}{293}{1279}{aux}{below}{Rate av pasienter til\\sengepost OT}
\rate{Qwr}{351}{1279}{aux}{below}{Rate av pasienter\\med rapport til\\sengepost OT}
\nd{auy}{Qva}{287,1265}{left}{Operasjonstypeflat\\e til pasienter som\\er fordig på postopr\\OT}
\nd{stk}{Qvb}{358,1265}{right}{Rapport\_til\_sengepos\\t\_overlege OT}
\lk{Qva}{Qvrv}\lk{Qvb}{Qwrv}
\node[cld] (Qxcl1) at (290,1332) {};
\node[cld] (Qxcl2) at (380,1332) {};
\nd{stk}{Qxs}{339,1332}{above}{Ventetid på anestege\\rapporter til\\sengepost OT}
\flowpipe{Qxcl1}{Qxs}\flowpipe{Qxs}{Qxcl2}
\rate{Qxr}{314}{1332}{auxb}{below}{Rate av ventetid på\\anestege rapport til\\sengepost OT}
\rate{Qyr}{360}{1332}{auxb}{below}{Rate av ventetid\\pasient med\\rapport til\\sengepost OT}
\nd{auxb}{Qxa}{386,1318}{right}{Rate av pasienter\\med rapport til\\sengepost OT}
\lk{Qvs}{Qxrv}\lk{Qxa}{Qyrv}
\nd{aux}{Qxb}{305,1355}{left}{Angir den lengste\\ventetiden til\\pasient venter på\\anestesilege rapport}
\nd{aux}{Qxc}{335,1360}{below}{Kobler sammen\\lengst ventetid med\\riktt pasient rapport}
\nd{auxb}{Qxd}{356,1390}{below}{Hvilken pasient det\\skal skrives rapport\\på først OT}
\lk{Qxs}{Qxc}\lk{Qxb}{Qxc}\lk{Qxc}{Qxd}

% follow-up on ward queue
\node[cld] (Qzcl1) at (250,1444) {};
\node[cld] (Qzcl2) at (362,1444) {};
\nd{stk}{Qzs}{311,1444}{above}{Pasienter som skal\\oppfølges på post OT}
\flowpipe{Qzcl1}{Qzs}\flowpipe{Qzs}{Qzcl2}
\rate{Qzr}{278}{1444}{auxb}{below}{Rate av pasienter til\\fordig postopr OT}
\rate{Qzq}{336}{1444}{auxb}{right}{Rate av pasienter\\fordig med sjekket\\av anestege OT}
\nd{auxb}{Qza}{276,1424}{left}{Operasjonstypeflat\\e til pasienter som\\er fordig på postopr\\OT}
\nd{stk}{Qzb}{376,1424}{above}{PostoprOppfølging\_O\\verlege OT}
\lk{Qza}{Qzrv}\lk{Qzb}{Qzqv}
\node[cld] (Qwcl1) at (259,1492) {};
\node[cld] (Qwcl2) at (342,1492) {};
\nd{stk}{Qws}{305,1492}{above}{Ventetid på anestege\\oppfølging på post OT}
\flowpipe{Qwcl1}{Qws}\flowpipe{Qws}{Qwcl2}
\rate{Qwa}{280}{1492}{auxb}{below}{Rate av ventetid på\\anestege oppfølging\\på post OT}
\rate{Qwb}{322}{1492}{auxb}{below}{Rate av ventetid\\pasient fordig\\oppfølgt på post OT}
\lk{Qzs}{Qwav}
\nd{auxb}{Qwc}{336,1478}{right}{Rate av pasienter\\fordig med sjekket\\av anestege OT}
\lk{Qzs}{Qwc}
\nd{aux}{Qwd}{302,1532}{left}{Angir den lengste\\ventetiden til\\pasient venter på\\anestesilege\\postopr oppfølging\\på post}
\nd{aux}{Qwe}{324,1532}{below}{Kobler sammen\\lengst ventetid med\\riktt pasient postopr\\oppfølgning på post\\OT}
\nd{auxb}{Qwf}{364,1510}{right}{Hvilken pasient som\\skal oppfølges på\\post først OT}
\lk{Qws}{Qwd}\lk{Qws}{Qwe}\lk{Qwd}{Qwe}\lk{Qwe}{Qwf}\lk{Qwc}{Qwf}
\draw[lnk] (Qwf) -- (Ih);
\draw[lnk] (Qwf) .. controls (430,1585) and (540,1590) .. (Idd);

% ---------- callouts ----------
\node[big,anchor=west] (Llunch) at (1157,160) {Lunch};
\node[big,anchor=north west] (Lpre) at (1202,280) {Pre-preparation\\activity};
\node[big,anchor=north west] (Lprep) at (1113,377) {Preparations activity\\at preparation room};
\node[big,anchor=north west] (Lfin) at (1225,444) {Finalization\\activity};
\node[big,anchor=north west] (Lop) at (932,752) {Operation\\activity};
\node[big,anchor=north west] (Llock) at (1158,826) {Locking\\out activity};
\node[big,anchor=north west] (Lpost) at (1180,962) {Postoperative\\check-up\\activity};
\node[big,anchor=north west] (Lrep) at (1135,1188) {Report writing\\activity};
\node[big,anchor=north west] (Lbed) at (1135,1413) {Check-up at\\bedpost activity};
\node[big,anchor=north west] (Lacc) at (10,1023) {Accumulating\\waiting time for\\anaesthetist being\\used in prioritizes\\patients both for\\the chief and for\\the assistant.};

\coordinate (s1) at (1142,158);  \coordinate (e1) at (603,224);
\coordinate (s2) at (1198,310);  \coordinate (e2) at (622,383);
\coordinate (s3) at (1122,426);  \coordinate (e3) at (625,631);
\coordinate (s4) at (1250,494);  \coordinate (e4) at (1168,626);
\coordinate (s5) at (968,745);   \coordinate (e5) at (895,656);
\coordinate (s6) at (1148,834);  \coordinate (e6) at (601,856);
\coordinate (s7) at (1182,1040); \coordinate (e7) at (662,1094);
\coordinate (s8) at (1125,1215); \coordinate (e8) at (628,1304);
\coordinate (s9) at (1118,1441); \coordinate (e9) at (628,1506);
\coordinate (sa) at (105,1015);  \coordinate (ea) at (194,381);
\coordinate (sb) at (172,984);   \coordinate (eb) at (261,918);
\coordinate (sc) at (173,1074);  \coordinate (ec) at (261,1051);
\coordinate (sd) at (172,1141);  \coordinate (ed) at (227,1161);
\coordinate (se) at (172,1210);  \coordinate (ee) at (259,1319);
\coordinate (sf) at (128,1230);  \coordinate (ef) at (245,1425);
\foreach \a in {1,...,9,a,b,c,d,e,f}{\draw[callout] (s\a) -- (e\a);}
\end{tikzpicture}
\end{document}
